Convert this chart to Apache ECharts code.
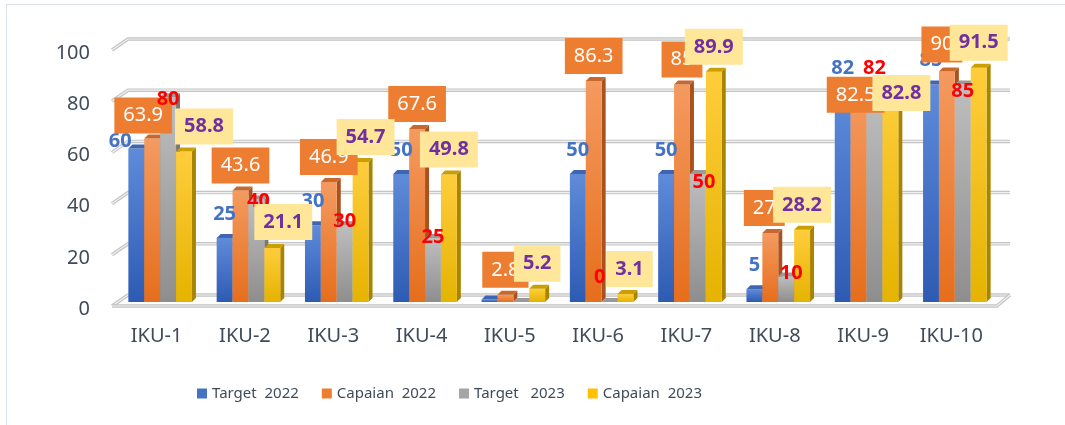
<!DOCTYPE html>
<html>
<head>
<meta charset="utf-8">
<script src="https://cdn.jsdelivr.net/npm/echarts@6/dist/echarts.min.js"></script>
<style>
  html, body { margin: 0; padding: 0; background: #ffffff; }
  #wrap { position: relative; width: 1065px; height: 425px; overflow: hidden; }
  #chart { position: absolute; left: 0; top: 0; width: 1065px; height: 425px; }
  #frame { position: absolute; left: 6px; top: 4px; width: 1200px; height: 600px;
           border-left: 1.5px solid #dde2e8; border-top: 1.5px solid #dde2e8; pointer-events: none; }
</style>
</head>
<body>
<div id="wrap"><div id="chart"></div><div id="frame"></div></div>
<script>
// ---- data ----
const categories = ['IKU-1', 'IKU-2', 'IKU-3', 'IKU-4', 'IKU-5', 'IKU-6', 'IKU-7', 'IKU-8', 'IKU-9', 'IKU-10'];
const target2022  = [60, 25, 30, 50, 1, 50, 50, 5, 82, 85];
const capaian2022 = [63.9, 43.6, 46.9, 67.6, 2.8, 86.3, 85, 27, 82.5, 90];
const target2023  = [80, 40, 30, 25, 0, 0, 50, 10, 82, 85];
const capaian2023 = [58.8, 21.1, 54.7, 49.8, 5.2, 3.1, 89.9, 28.2, 82.8, 91.5];
const yTicks = [0, 20, 40, 60, 80, 100];
const seriesNames = ['Target  2022', 'Capaian  2022', 'Target   2023', 'Capaian  2023'];

// ---- label nudges (pixel style offsets, per category) ----
const blueNudge   = [[-16, 17], [0, 0], [0, 0], [0, 0], [3, 0], [0, 0], [0, 0], [0, 0], [0, 0], [0, 0]];
const orangeNudge = [[-9, 2], [0, 0], [0, 0], [0, 0], [0, 0], [0, 0], [0, 0], [-6, 0], [-3, 29], [-5, -2]];
const grayNudge   = [[0, 2], [2, 2], [0, -4], [0, -1], [4, -29], [-10, -25], [6, 8], [5, -3], [0, -24], [0, 7]];
const yellowNudge = [[20, 0], [11, -1], [5, 0], [0, 0], [0, 0], [4, 0], [0, 0], [0, 0], [11, 28], [0, 0]];

// ---- styles ----
const FONT = '"Noto Sans", "Open Sans", sans-serif';
const AXIS_COLOR = '#404b5a';
const BAR_FRAC = 0.18;
const DEPTH = 4;
const styles = [
  { color: '#4472C4', front: ['#5F8BDA', '#2D5BB3'], side: '#284a8a', top: '#3f66b2',
    label: { fill: '#4472C4', font: 'bold 20px ' + FONT, dy: -24 }, nudge: blueNudge },
  { color: '#ED7D31', front: ['#F49A60', '#E66E1C'], side: '#a9521f', top: '#c9682d',
    label: { fill: '#ffffff', font: '20px ' + FONT, dy: -25, bg: '#ED7D31', padding: [8, 9] }, nudge: orangeNudge },
  { color: '#A5A5A5', front: ['#BEBEBE', '#8E8E8E'], side: '#777777', top: '#9a9a9a',
    label: { fill: '#FF0000', font: 'bold 20px ' + FONT, dy: 0 }, nudge: grayNudge },
  { color: '#FFC000', front: ['#FFCD3C', '#E5B300'], side: '#a88400', top: '#caa000',
    label: { fill: '#7030A0', font: 'bold 20px ' + FONT, dy: -25, bg: '#FFE699', padding: [8, 9] }, nudge: yellowNudge }
];
const seriesValues = [target2022, capaian2022, target2023, capaian2023];

function barRenderer(k) {
  const st = styles[k];
  return function (params, api) {
    const ci = api.value(0), v = api.value(1);
    const p0 = api.coord([ci, 0]);
    const p1 = api.coord([ci, v]);
    const band = api.size([1, 0])[0];
    const bw = band * BAR_FRAC;
    const x = p0[0] + (k - 2) * bw;
    const yb = p0[1], yt = p1[1];
    const d = DEPTH;
    const grad = { type: 'linear', x: 0, y: 0, x2: 0, y2: 1, global: false,
      colorStops: [{ offset: 0, color: st.front[0] }, { offset: 1, color: st.front[1] }] };
    const children = [
      { type: 'polygon', z2: k * 2,
        shape: { points: [[x + bw, yt], [x + bw + d, yt - d], [x + bw + d, yb - d], [x + bw, yb]] },
        style: { fill: st.side } },
      { type: 'rect', z2: k * 2, shape: { x: x, y: yt, width: bw, height: Math.max(yb - yt, 0) },
        style: { fill: grad } },
      { type: 'polygon', z2: k * 2,
        shape: { points: [[x, yt], [x + d, yt - d], [x + bw + d, yt - d], [x + bw, yt]] },
        style: { fill: st.top } }
    ];
    const nd = st.nudge[params.dataIndex] || [0, 0];
    const cx = x + bw / 2 + nd[0];
    const cy = yt + st.label.dy + nd[1];
    const ts = { text: String(v), x: cx, y: cy, fill: st.label.fill, font: st.label.font,
                 align: 'center', verticalAlign: 'middle' };
    if (st.label.bg) { ts.backgroundColor = st.label.bg; ts.padding = st.label.padding; }
    children.push({ type: 'text', z2: 20 + k, style: ts });
    return { type: 'group', children: children };
  };
}

function gridRenderer(params, api) {
  const v = api.value(1);
  const y = api.coord([0, v])[1];
  const cs = params.coordSys;
  const x0 = cs.x, x1 = cs.x + cs.width;
  const pts = [[x0 - 4, y + 4], [x0 + 12, y - 7], [x1 + 11, y - 7]];
  const children = [
    { type: 'polyline', shape: { points: pts }, style: { stroke: '#c4c4c4', lineWidth: 3.5, fill: null } },
    { type: 'polyline', shape: { points: pts }, style: { stroke: '#f0f0f0', lineWidth: 1.2, fill: null } }
  ];
  if (v === 0) {
    const fp = [[x0 - 4, y + 4], [x1 - 2, y + 4], [x1 + 11, y - 7]];
    children.push({ type: 'polyline', shape: { points: fp }, style: { stroke: '#c4c4c4', lineWidth: 3.5, fill: null } });
    children.push({ type: 'polyline', shape: { points: fp }, style: { stroke: '#f0f0f0', lineWidth: 1.2, fill: null } });
  }
  return { type: 'group', children: children };
}

const series = [{
  type: 'custom', name: '_grid', silent: true, z: 1,
  renderItem: gridRenderer,
  encode: { x: 0, y: 1 },
  data: yTicks.map(function (t) { return [0, t]; })
}];
seriesValues.forEach(function (vals, k) {
  series.push({
    type: 'custom', name: seriesNames[k], silent: true, z: 2,
    itemStyle: { color: styles[k].color },
    renderItem: barRenderer(k),
    encode: { x: 0, y: 1 },
    data: vals.map(function (v, i) { return [i, v]; })
  });
});

const chart = echarts.init(document.getElementById('chart'), null, { renderer: 'canvas' });
chart.setOption({
  animation: false,
  backgroundColor: '#ffffff',
  grid: { left: 116, right: 66, top: 46, bottom: 123, containLabel: false },
  xAxis: {
    type: 'category', data: categories,
    axisLine: { show: false }, axisTick: { show: false }, splitLine: { show: false },
    axisLabel: { color: AXIS_COLOR, fontSize: 20, fontFamily: FONT, margin: 24, padding: [0, 7, 0, 0] }
  },
  yAxis: {
    type: 'value', min: 0, max: 100, interval: 20,
    axisLine: { show: false }, axisTick: { show: false }, splitLine: { show: false },
    axisLabel: { color: AXIS_COLOR, fontSize: 20, fontFamily: FONT, margin: 26,
                 verticalAlign: 'top', lineHeight: 14 }
  },
  legend: {
    data: seriesNames, left: 192, top: 381, icon: 'rect',
    itemWidth: 10, itemHeight: 10, itemGap: 23,
    textStyle: { fontSize: 15, color: AXIS_COLOR, fontFamily: FONT }
  },
  series: series
});
</script>
</body>
</html>
